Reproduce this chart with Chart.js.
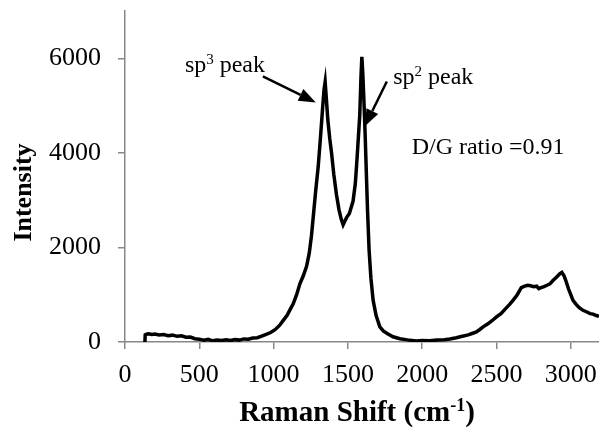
<!DOCTYPE html>
<html>
<head>
<meta charset="utf-8">
<script src="https://cdn.jsdelivr.net/npm/chart.js@4/dist/chart.umd.min.js"></script>
<style>
  html, body { margin: 0; padding: 0; background: #fff; }
  #wrap { width: 599px; height: 441px; }
</style>
</head>
<body>
<div id="wrap"><canvas id="raman"></canvas></div>
<script>
// Raman shift (cm-1) and intensity
const shift = [
  134, 136, 145, 160, 180, 200, 230, 260, 290, 320, 350, 380, 410, 440, 470,
  500, 530, 560, 590, 620, 650, 680, 710, 740, 770, 800, 830, 860, 890, 920,
  950, 980, 1010, 1040, 1065, 1090, 1110, 1132, 1155, 1177, 1200, 1222, 1240,
  1255, 1270, 1285, 1300, 1315, 1330, 1340, 1347, 1355, 1365, 1378, 1390, 1405,
  1423, 1440, 1455, 1468, 1480, 1491, 1510, 1535, 1550, 1560, 1570, 1580, 1588,
  1594, 1600, 1608, 1616, 1624, 1632, 1643, 1655, 1670, 1690, 1715, 1740, 1770,
  1804, 1850, 1900, 1961, 2000, 2050, 2100, 2150, 2186, 2230, 2270, 2310, 2340,
  2365, 2390, 2410, 2440, 2470, 2500, 2530, 2560, 2590, 2611, 2640, 2667, 2690,
  2710, 2730, 2750, 2770, 2785, 2800, 2820, 2840, 2860, 2880, 2900, 2925, 2940,
  2955, 2970, 2985, 3000, 3015, 3035, 3055, 3082, 3105, 3130, 3150, 3172, 3190
];
const intensity = [
  0, 150, 165, 175, 160, 170, 150, 160, 135, 145, 120, 130, 100, 105, 70,
  60, 40, 55, 25, 40, 30, 45, 30, 50, 40, 65, 60, 85, 90, 125,
  160, 200, 260, 350, 457, 560, 680, 808, 1000, 1230, 1400, 1600, 1880,
  2250, 2750, 3250, 3700, 4300, 4950, 5350, 5500, 5150, 4700, 4300, 4000, 3550,
  3120, 2800, 2600, 2480, 2560, 2630, 2720, 2980, 3350, 3800, 4300, 4800, 5600,
  6030, 5700, 5100, 4400, 3600, 2800, 1930, 1350, 880, 560, 320, 230, 170,
  110, 70, 45, 20, 30, 25, 40, 50, 65, 90, 120, 150, 185,
  215, 270, 320, 380, 450, 530, 600, 700, 800, 880, 1000, 1150, 1180,
  1200, 1190, 1170, 1180, 1130, 1150, 1170, 1200, 1230, 1300, 1360, 1440, 1470,
  1400, 1270, 1120, 1000, 880, 800, 730, 670, 640, 600, 590, 560, 540
];
const xTicks = [0, 500, 1000, 1500, 2000, 2500, 3000];
const yTicks = [0, 2000, 4000, 6000];

const points = shift.map((s, i) => ({ x: s, y: intensity[i] }));

function drawParts(ctx, parts, x, y, size, bold) {
  // draws text runs, some of them as superscript
  let cx = x;
  parts.forEach(p => {
    const sz = p.sup ? Math.round(size * 0.62) : size;
    ctx.font = (bold ? 'bold ' : '') + sz + 'px "Liberation Serif"';
    ctx.fillText(p.t, cx, p.sup ? y - size * 0.36 : y);
    cx += ctx.measureText(p.t).width;
  });
  return cx - x;
}

function partsWidth(ctx, parts, size, bold) {
  let w = 0;
  parts.forEach(p => {
    const sz = p.sup ? Math.round(size * 0.62) : size;
    ctx.font = (bold ? 'bold ' : '') + sz + 'px "Liberation Serif"';
    w += ctx.measureText(p.t).width;
  });
  return w;
}

function arrow(ctx, x0, y0, x1, y1) {
  const ang = Math.atan2(y1 - y0, x1 - x0);
  const len = 17, half = 6.5;
  const bx = x1 - len * Math.cos(ang), by = y1 - len * Math.sin(ang);
  ctx.beginPath();
  ctx.moveTo(x0, y0);
  ctx.lineTo(bx, by);
  ctx.lineWidth = 2.5;
  ctx.stroke();
  ctx.beginPath();
  ctx.moveTo(x1, y1);
  ctx.lineTo(bx + half * Math.sin(ang), by - half * Math.cos(ang));
  ctx.lineTo(bx - half * Math.sin(ang), by + half * Math.cos(ang));
  ctx.closePath();
  ctx.fill();
}

const notes = {
  id: 'notes',
  afterDraw(chart) {
    const { ctx, chartArea } = chart;
    const sx = chart.scales.x, sy = chart.scales.y;
    ctx.save();
    ctx.fillStyle = '#000';
    ctx.strokeStyle = '#000';
    ctx.textBaseline = 'alphabetic';
    ctx.textAlign = 'left';

    // peak labels
    drawParts(ctx, [{ t: 'sp' }, { t: '3', sup: true }, { t: ' peak' }],
      sx.getPixelForValue(403), sy.getPixelForValue(5700), 24, false);
    drawParts(ctx, [{ t: 'sp' }, { t: '2', sup: true }, { t: ' peak' }],
      sx.getPixelForValue(1805), sy.getPixelForValue(5450), 24, false);
    drawParts(ctx, [{ t: 'D/G ratio =0.91' }],
      sx.getPixelForValue(1929), sy.getPixelForValue(3966), 24, false);

    // arrows to the peaks
    arrow(ctx, sx.getPixelForValue(928), sy.getPixelForValue(5615),
      sx.getPixelForValue(1284), sy.getPixelForValue(5067));
    arrow(ctx, sx.getPixelForValue(1762), sy.getPixelForValue(5509),
      sx.getPixelForValue(1614), sy.getPixelForValue(4562));

    // axis titles
    const xt = [{ t: 'Raman Shift (cm' }, { t: '-1', sup: true }, { t: ')' }];
    const w = partsWidth(ctx, xt, 29, true);
    drawParts(ctx, xt, (chartArea.left + chartArea.right) / 2 - w / 2 - 5, 421, 29, true);

    ctx.translate(24, (chartArea.top + chartArea.bottom) / 2 + 16);
    ctx.rotate(-Math.PI / 2);
    ctx.textAlign = 'center';
    ctx.textBaseline = 'middle';
    ctx.font = 'bold 26px "Liberation Serif"';
    ctx.fillText('Intensity', 0, 0);
    ctx.restore();
  }
};

const noPad = s => { s.paddingTop = 0; s.paddingBottom = 0; s.paddingLeft = 0; s.paddingRight = 0; };

new Chart(document.getElementById('raman'), {
  type: 'line',
  data: {
    datasets: [{
      data: points,
      borderColor: '#000',
      borderWidth: 3.5,
      pointRadius: 0,
      tension: 0,
      fill: false
    }]
  },
  options: {
    responsive: true,
    maintainAspectRatio: false,
    animation: false,
    layout: { padding: { top: 11, right: 0, left: 0, bottom: 0 } },
    plugins: { legend: { display: false }, tooltip: { enabled: false } },
    scales: {
      x: {
        type: 'linear',
        min: 0,
        max: 3190,
        afterFit: s => { s.height = 99; noPad(s); },
        afterBuildTicks: s => { s.ticks = xTicks.map(v => ({ value: v })); },
        grid: { drawOnChartArea: false, drawTicks: true, tickLength: 7, color: '#888', lineWidth: 1.5 },
        border: { color: '#888', width: 1.5 },
        ticks: {
          color: '#000', padding: 11, maxRotation: 0,
          font: { family: 'Liberation Serif', size: 26 },
          callback: v => String(v)
        }
      },
      y: {
        min: 0,
        max: 7000,
        afterFit: s => { s.width = 125; noPad(s); },
        afterBuildTicks: s => { s.ticks = yTicks.map(v => ({ value: v })); },
        grid: { drawOnChartArea: false, drawTicks: true, tickLength: 7, color: '#888', lineWidth: 1.5 },
        border: { color: '#888', width: 1.5 },
        ticks: {
          color: '#000', padding: 17,
          font: { family: 'Liberation Serif', size: 26 },
          callback: v => String(v)
        }
      }
    }
  },
  plugins: [notes]
});
</script>
</body>
</html>
